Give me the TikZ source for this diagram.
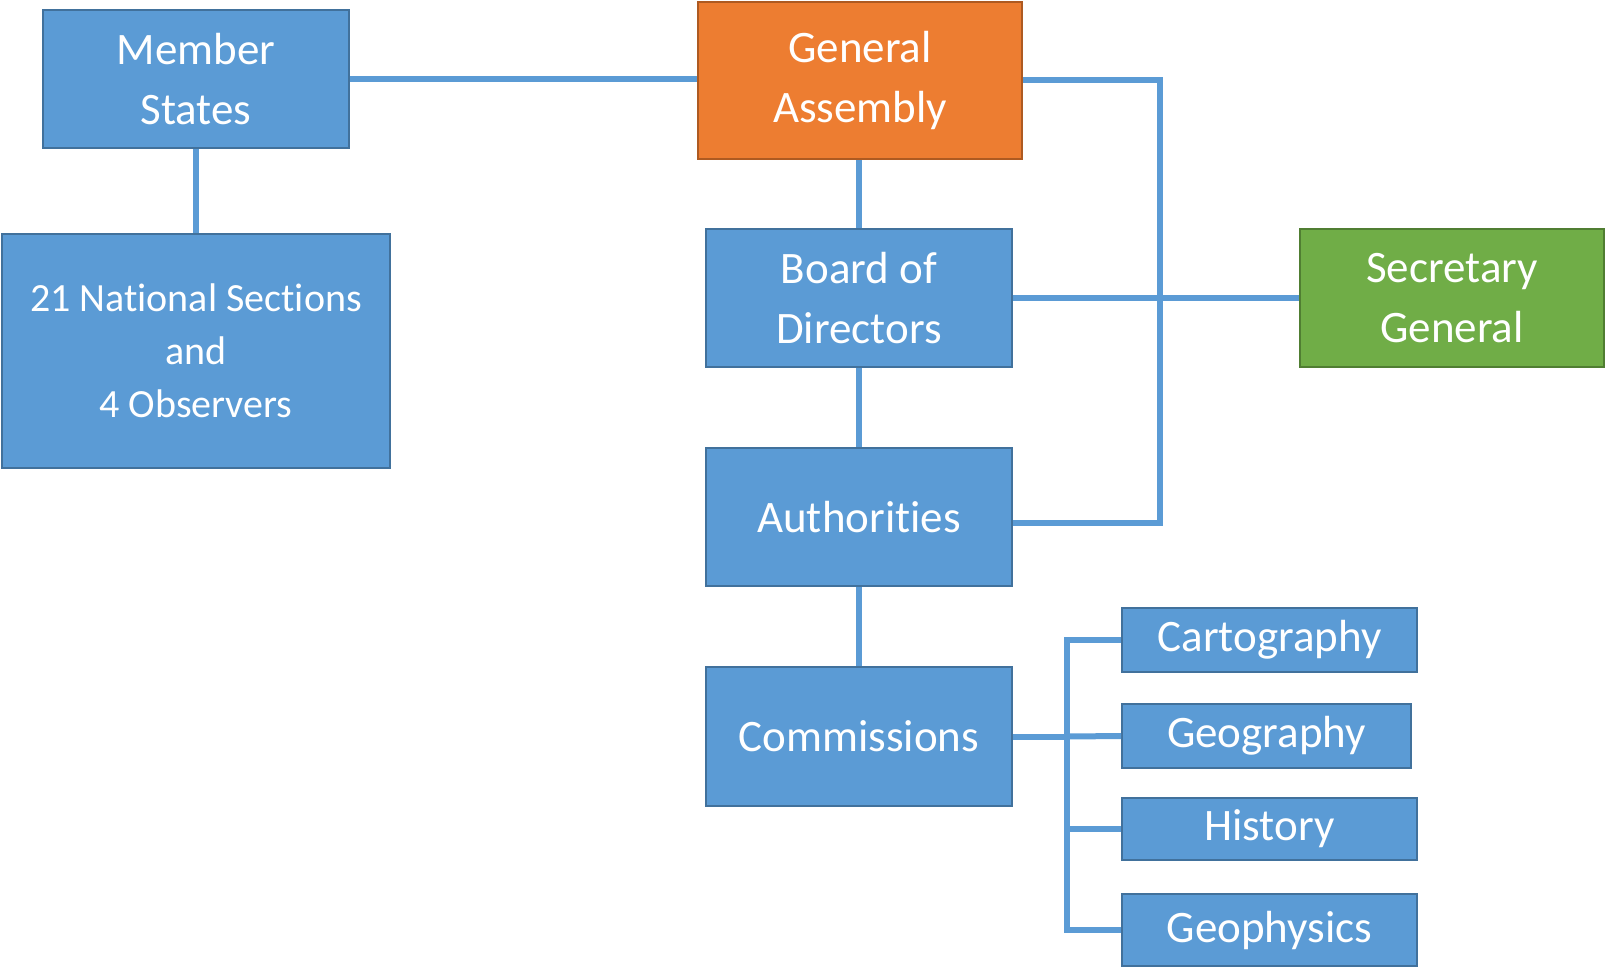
\documentclass[tikz,border=0pt]{standalone}
\usepackage{fontspec}
\setmainfont{Carlito}[Ligatures=NoCommon]
\definecolor{boxblue}{HTML}{5B9BD5}
\definecolor{blueedge}{HTML}{41719C}
\definecolor{boxorange}{HTML}{ED7D31}
\definecolor{orangeedge}{HTML}{AE5A21}
\definecolor{boxgreen}{HTML}{70AD47}
\definecolor{greenedge}{HTML}{507E32}
\begin{document}
\begin{tikzpicture}[x=1pt,y=-1pt,
  box/.style={rectangle, fill=boxblue, draw=blueedge, line width=2pt, inner sep=0pt,
    text=white, align=center, font=\fontsize{45}{60}\selectfont},
  conn/.style={draw=boxblue, line width=6pt}]
\useasboundingbox (0,0) rectangle (1605,967);
\node[box, minimum width=306, minimum height=138] (ms) at (196,79) {Member\\States};
\node[box, fill=boxorange, draw=orangeedge, minimum width=324, minimum height=157] (ga) at (860,80.5) {General\\Assembly};
\node[box, minimum width=388, minimum height=234, font=\fontsize{40}{53}\selectfont] (ns) at (196,351) {21 National Sections\\and\\4 Observers};
\node[box, minimum width=306, minimum height=138] (bod) at (859,298) {Board of\\Directors};
\node[box, fill=boxgreen, draw=greenedge, minimum width=304, minimum height=138] (sg) at (1452,298) {Secretary\\General};
\node[box, minimum width=306, minimum height=138] (auth) at (859,517) {Authorities};
\node[box, minimum width=306, minimum height=139] (comm) at (859,736.5) {Commissions};
\node[box, minimum width=295, minimum height=64] (cart) at (1269.5,640) {Cartography};
\node[box, minimum width=289, minimum height=64] (geog) at (1266.5,736) {Geography};
\node[box, minimum width=295, minimum height=62] (hist) at (1269.5,829) {History};
\node[box, minimum width=295, minimum height=72] (geoph) at (1269.5,930) {Geophysics};
\coordinate (gaturn) at (1160,80);
\coordinate (authturn) at (1160,523);
\coordinate (split) at (1067,736.5);
\draw[conn] (ms.east) -- (ga.west |- ms.east);
\draw[conn] (ms.south) -- (ns.north);
\draw[conn] (ga.east |- gaturn) -- (gaturn) -- (authturn) -- (auth.east |- authturn);
\draw[conn] (bod.north |- ga.south) -- (bod.north);
\draw[conn] (bod.south) -- (auth.north);
\draw[conn] (auth.south) -- (comm.north);
\draw[conn] (bod.east) -- (sg.west);
\draw[conn] (comm.east) -- (split);
\draw[conn] (cart.west) -| (split |- geoph.west) -- (geoph.west);
\draw[conn] (split) -- (geog.west);
\draw[conn] (split |- hist.west) -- (hist.west);
\end{tikzpicture}
\end{document}
